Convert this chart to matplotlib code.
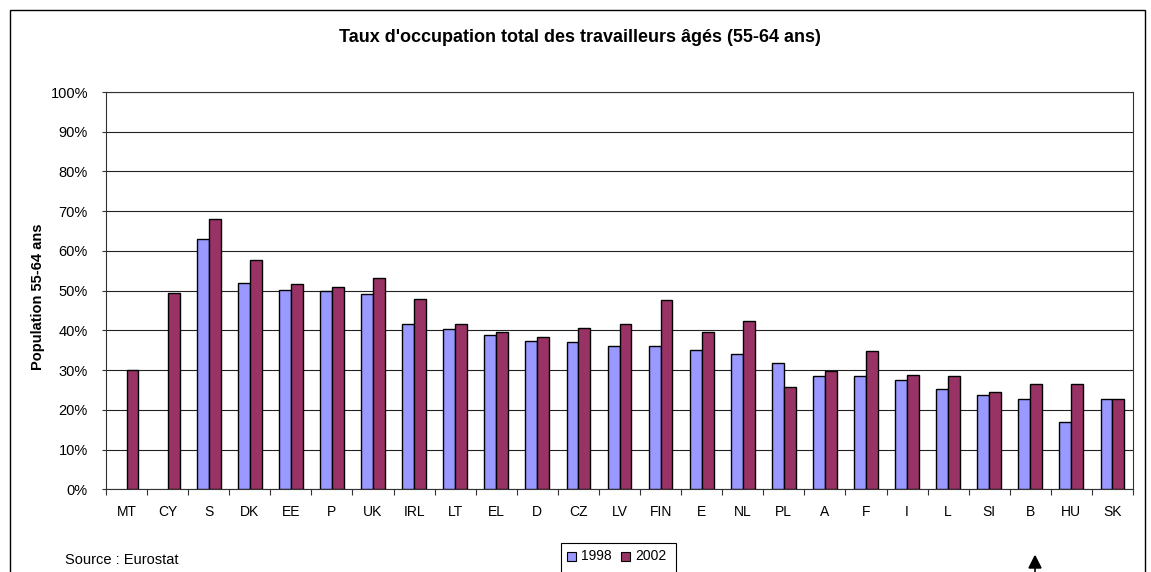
import matplotlib
matplotlib.use("Agg")
import matplotlib.pyplot as plt
from matplotlib.patches import Rectangle, Polygon
from matplotlib.lines import Line2D
import numpy as np

plt.rcParams['font.family'] = ['Liberation Sans', 'DejaVu Sans']

countries = ["MT", "CY", "S", "DK", "EE", "P", "UK", "IRL", "LT", "EL", "D", "CZ", "LV",
             "FIN", "E", "NL", "PL", "A", "F", "I", "L", "SI", "B", "HU", "SK"]
v1998 = [np.nan, np.nan, 63.0, 51.9, 50.1, 49.8, 49.1, 41.6, 40.3, 38.9, 37.4, 37.1, 36.1,
         36.1, 35.1, 34.0, 31.8, 28.4, 28.4, 27.6, 25.2, 23.8, 22.7, 17.0, 22.7]
v2002 = [30.0, 49.4, 68.1, 57.8, 51.6, 50.8, 53.2, 47.9, 41.6, 39.5, 38.4, 40.6, 41.6,
         47.7, 39.5, 42.4, 25.8, 29.7, 34.7, 28.7, 28.4, 24.4, 26.6, 26.6, 22.7]
series_labels = ["1998", "2002"]
yticks = list(range(0, 101, 10))
title = "Taux d'occupation total des travailleurs âgés (55-64 ans)"
ylabel = "Population 55-64 ans"
source = "Source : Eurostat"

W, H = 1151, 572
fig = plt.figure(figsize=(W / 100, H / 100), dpi=100)
ax = fig.add_axes([106 / W, 1 - 489.3 / H, (1133 - 106) / W, (489.3 - 92) / H])

c1, c2 = "#9999FF", "#993366"
x = np.arange(len(countries))
bw = 0.29
ax.bar(x - bw / 2, v1998, bw, color=c1, edgecolor="black", linewidth=1.0, zorder=3)
ax.bar(x + bw / 2, v2002, bw, color=c2, edgecolor="black", linewidth=1.0, zorder=3)

ax.set_xlim(-0.5, len(countries) - 0.5)
ax.set_ylim(0, 100)
ax.set_yticks(yticks)
ax.set_yticklabels([f"{t}%" for t in yticks], fontsize=10.5)
ax.yaxis.grid(True, color="#222222", linewidth=0.8, zorder=0)
ax.set_axisbelow(True)
ax.tick_params(axis="y", length=3, width=0.8, pad=10, color="#333333")

ax.set_xticks(x)
ax.set_xticklabels(countries, fontsize=10)
ax.tick_params(axis="x", which="major", length=0, pad=11)
ax.set_xticks(np.arange(-0.5, len(countries), 1), minor=True)
ax.tick_params(axis="x", which="minor", length=4, width=0.8, color="#333333", direction="out")

for s in ax.spines.values():
    s.set_color("#333333")
    s.set_linewidth(0.8)

ax.set_ylabel(ylabel, fontsize=10.5, fontweight="bold")
ax.yaxis.set_label_coords(-(106 - 45) / (1133 - 106), 0.485)

fig.text((332 + 827) / 2 / W, 1 - 37 / H, title, ha="center", va="center",
         fontsize=13, fontweight="bold")
fig.text(65 / W, 1 - 560 / H, source, ha="left", va="center", fontsize=10.5)

# outer chart border
fig.add_artist(Rectangle((10 / W, -0.05), (1145 - 10) / W, 1.05 - 10 / H,
                         transform=fig.transFigure, fill=False, edgecolor="black",
                         linewidth=1.0, clip_on=False))

# legend box
fig.add_artist(Rectangle((561 / W, -0.05), (676 - 561) / W, 0.05 + 1 - 543 / H,
                         transform=fig.transFigure, fill=True, facecolor="white",
                         edgecolor="black", linewidth=0.8))
for lab, col, sx, tx in [(series_labels[0], c1, 567, 581), (series_labels[1], c2, 621, 635)]:
    fig.add_artist(Rectangle((sx / W, 1 - 561 / H), 9 / W, 9 / H, transform=fig.transFigure,
                             facecolor=col, edgecolor="black", linewidth=0.8))
    fig.text(tx / W, 1 - 556 / H, lab, ha="left", va="center", fontsize=10)

# small arrow
fig.add_artist(Polygon([[1035 / W, 1 - 556 / H], [1029 / W, 1 - 568 / H], [1041 / W, 1 - 568 / H]],
                       closed=True, transform=fig.transFigure, facecolor="black", edgecolor="black"))
fig.add_artist(Line2D([1035 / W, 1035 / W], [1 - 566 / H, 0], transform=fig.transFigure,
                      color="black", linewidth=1.2))

fig.savefig("out.png", dpi=100)
